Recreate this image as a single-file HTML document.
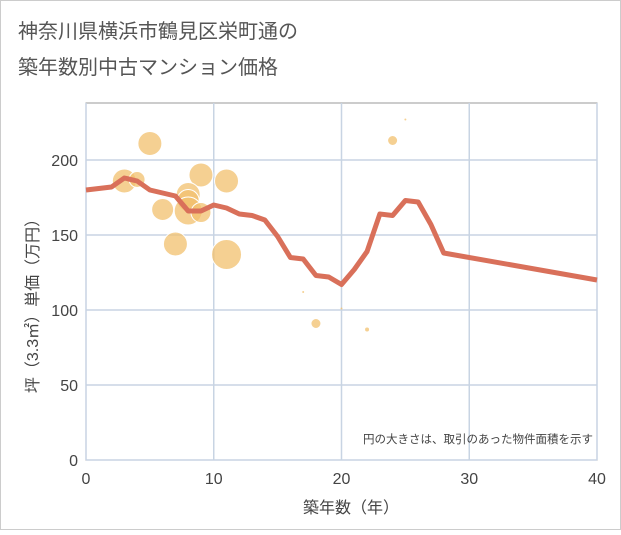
<!DOCTYPE html>
<html><head><meta charset="utf-8">
<style>
body{margin:0;background:#fff;}
svg text{font-family:"Liberation Sans","Noto Sans CJK JP",sans-serif;}
</style></head>
<body>
<svg id="chart" width="621" height="530" xmlns="http://www.w3.org/2000/svg">
<rect x="0.5" y="0.5" width="620" height="529" fill="#fff" stroke="#ccc"/>
<text x="18" y="38" font-size="20" fill="#555">神奈川県横浜市鶴見区栄町通の</text>
<text x="18" y="74" font-size="20" fill="#555">築年数別中古マンション価格</text>
<g id="grid"></g>
<g id="bubbles"></g>
<g id="line"></g>
<g id="axes"></g>
<text x="593" y="443" font-size="11.5" fill="#444" text-anchor="end">円の大きさは、取引のあった物件面積を示す</text>
<text x="351" y="513" font-size="16" fill="#444" text-anchor="middle">築年数（年）</text>
<text transform="translate(38,302) rotate(-90)" font-size="16" fill="#444" text-anchor="middle">坪（3.3㎡）単価（万円）</text>
</svg>
<script>
const xTicks=[0,10,20,30,40];
const yTicks=[0,50,100,150,200];
const lineYears=[0,2,3,4,5,6,7,8,9,10,11,12,13,14,15,16,17,18,19,20,21,22,23,24,25,26,27,28,40];
const linePrices=[180,182,188,186,180,178,176,166,166,170,168,164,163,160,149,135,134,123,122,117,127,139,164,163,173,172,157,138,120];
const bubbleYears=[5,3,4,9,11,8,8,6,8,9,7,11,18,24,25,17,22,20];
const bubblePrices=[211,186,187,190,186,177,173,167,166,165,144,137,91,213,227,112,87,101];
const bubbleSizes=[12,12,8,12,12,12,11,11,14,10,12,15,5,5,1,1,2,1];
const L=86,R=597,T=103,B=460;
const xs=v=>L+(v/40)*(R-L);
const ys=v=>B-v*1.5;
const NS="http://www.w3.org/2000/svg";
function mk(tag,attrs,parent){const e=document.createElementNS(NS,tag);for(const k in attrs)e.setAttribute(k,attrs[k]);parent.appendChild(e);return e;}
const grid=document.getElementById('grid');
const bg=mk('rect',{x:L,y:T,width:R-L,height:B-T,fill:'#fff',stroke:'#999'},grid);


const axes=document.getElementById('axes');
xTicks.forEach(t=>{
 const l=mk('line',{x1:xs(t),x2:xs(t),y1:T,y2:B,stroke:'#c8d4e3','stroke-width':1.5},grid);
 
 
 const tx=mk('text',{x:xs(t),y:B+24,'font-size':16,fill:'#444','text-anchor':'middle'},axes);
 tx.textContent=t;
 
 
});
yTicks.forEach(t=>{
 const l=mk('line',{x1:L,x2:R,y1:ys(t),y2:ys(t),stroke:'#c8d4e3','stroke-width':1.5},grid);
 
 
 const tx=mk('text',{x:L-8,y:ys(t)+6,'font-size':16,fill:'#444','text-anchor':'end'},axes);
 tx.textContent=t;
 
 
});
const bub=document.getElementById('bubbles');
bubbleYears.forEach((yr,i)=>{
 const c=mk('circle',{cx:xs(yr),cy:ys(bubblePrices[i]),r:bubbleSizes[i],fill:'#f2c06e','fill-opacity':0.75,stroke:'#fff','stroke-width':bubbleSizes[i]>3?1:0},bub);
 
 
});
const pts=lineYears.map((y,i)=>xs(y)+','+ys(linePrices[i])).join(' ');
const pl=mk('polyline',{points:pts,fill:'none',stroke:'#d9705a','stroke-width':5,'stroke-linejoin':'round'},document.getElementById('line'));


</script>
</body></html>
